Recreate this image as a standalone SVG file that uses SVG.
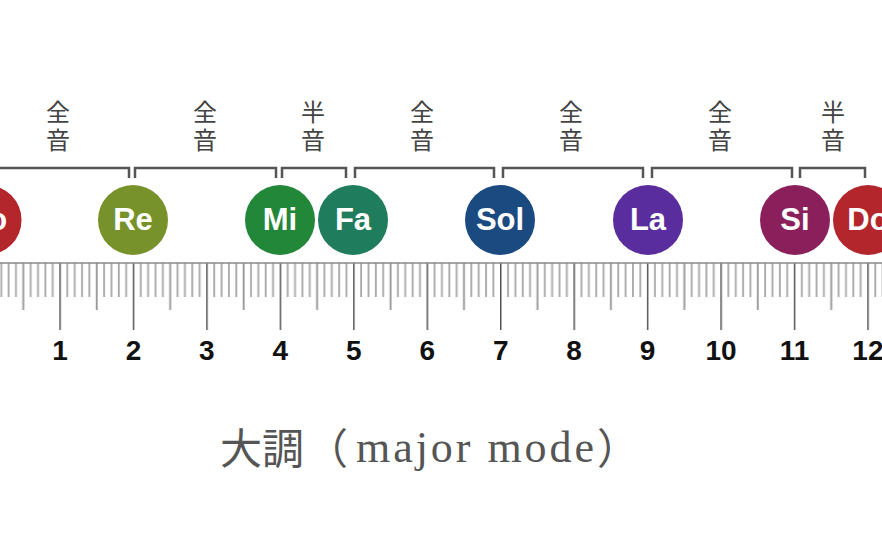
<svg xmlns="http://www.w3.org/2000/svg" width="882" height="551" viewBox="0 0 882 551">
  <style>
    .br { fill: none; stroke: #555; stroke-width: 2.5; }
    .step { font-family: "Noto Sans CJK JP", "Noto Sans CJK SC", sans-serif; font-size: 24px; fill: #444; writing-mode: vertical-rl; letter-spacing: 4px; }
    .note circle { stroke: none; }
    .note text { font-family: "Liberation Sans", Arial, sans-serif; font-weight: bold; font-size: 31px; fill: #fff; text-anchor: middle; }
    .num { font-family: "Liberation Sans", Arial, sans-serif; font-weight: bold; font-size: 28px; fill: #111; text-anchor: middle; }
    .mn { fill: #aaa; }
  </style>
  <defs>
    <pattern id="ticks" patternUnits="userSpaceOnUse" x="-14.15" y="263" width="73.45" height="67">
      <rect x="0" y="0" width="1.5" height="67" fill="#555"/>
      <rect class="mn" x="7.1" y="0" width="1.9" height="34"/>
      <rect class="mn" x="14.45" y="0" width="1.9" height="34"/>
      <rect class="mn" x="21.8" y="0" width="1.9" height="34"/>
      <rect class="mn" x="29.15" y="0" width="1.9" height="34"/>
      <rect x="36.5" y="0" width="1.9" height="47" fill="#999"/>
      <rect class="mn" x="43.85" y="0" width="1.9" height="34"/>
      <rect class="mn" x="51.2" y="0" width="1.9" height="34"/>
      <rect class="mn" x="58.55" y="0" width="1.9" height="34"/>
      <rect class="mn" x="65.9" y="0" width="1.9" height="34"/>
    </pattern>
  </defs>
  <rect width="882" height="551" fill="#fff"/>

  <g id="ruler">
    <rect x="0" y="263" width="882" height="67" fill="url(#ticks)"/>
    <line x1="0" y1="263" x2="882" y2="263" stroke="#888" stroke-width="1.5"/>
    <text class="num" x="60" y="360">1</text>
    <text class="num" x="133.45" y="360">2</text>
    <text class="num" x="206.9" y="360">3</text>
    <text class="num" x="280.35" y="360">4</text>
    <text class="num" x="353.8" y="360">5</text>
    <text class="num" x="427.25" y="360">6</text>
    <text class="num" x="500.7" y="360">7</text>
    <text class="num" x="574.15" y="360">8</text>
    <text class="num" x="647.6" y="360">9</text>
    <text class="num" x="721.05" y="360">10</text>
    <text class="num" x="794.5" y="360">11</text>
    <text class="num" x="867.95" y="360">12</text>
  </g>

  <g id="connectors">
    <path class="br" d="M -2 168 H 129 V 178"/>
    <path class="br" d="M 135 178 V 168 H 276 V 178"/>
    <path class="br" d="M 282 178 V 168 H 346 V 178"/>
    <path class="br" d="M 355 178 V 168 H 494 V 178"/>
    <path class="br" d="M 503 178 V 168 H 643 V 178"/>
    <path class="br" d="M 652 178 V 168 H 792 V 178"/>
    <path class="br" d="M 800 178 V 168 H 865 V 178"/>
  </g>

  <g id="step-labels">
    <text class="step" x="58" y="100">全音</text>
    <text class="step" x="205" y="100">全音</text>
    <text class="step" x="313" y="100">半音</text>
    <text class="step" x="422" y="100">全音</text>
    <text class="step" x="571" y="100">全音</text>
    <text class="step" x="720" y="100">全音</text>
    <text class="step" x="833" y="100">半音</text>
  </g>

  <g id="do-left" class="note"><circle cx="-13.45" cy="220" r="35" fill="#b3262b"/><text x="-13.45" y="230">Do</text></g>
  <g id="re" class="note"><circle cx="133" cy="220" r="35" fill="#77922a"/><text x="133" y="230">Re</text></g>
  <g id="mi" class="note"><circle cx="280" cy="220" r="35" fill="#23873a"/><text x="280" y="230">Mi</text></g>
  <g id="fa" class="note"><circle cx="353" cy="220" r="35" fill="#1f7c5d"/><text x="353" y="230">Fa</text></g>
  <g id="sol" class="note"><circle cx="500" cy="220" r="35" fill="#1b4a80"/><text x="500" y="230">Sol</text></g>
  <g id="la" class="note"><circle cx="648" cy="220" r="35" fill="#592d9e"/><text x="648" y="230">La</text></g>
  <g id="si" class="note"><circle cx="795" cy="220" r="35" fill="#8a1f5c"/><text x="795" y="230">Si</text></g>
  <g id="do-right" class="note"><circle cx="868" cy="220" r="35" fill="#b3262b"/><text x="868" y="230">Do</text></g>

  <g id="caption" fill="#555">
    <text x="220" y="464" font-family="Noto Sans CJK JP, Noto Sans CJK SC, sans-serif" font-size="42">大調</text>
    <text x="306" y="464" font-family="Noto Sans CJK JP, Noto Sans CJK SC, sans-serif" font-size="42">（</text>
    <text x="356" y="462" font-family="Liberation Serif, Times New Roman, serif" font-size="44" textLength="238" lengthAdjust="spacing">major mode</text>
    <text x="597" y="464" font-family="Noto Sans CJK JP, Noto Sans CJK SC, sans-serif" font-size="42">）</text>
  </g>
</svg>
